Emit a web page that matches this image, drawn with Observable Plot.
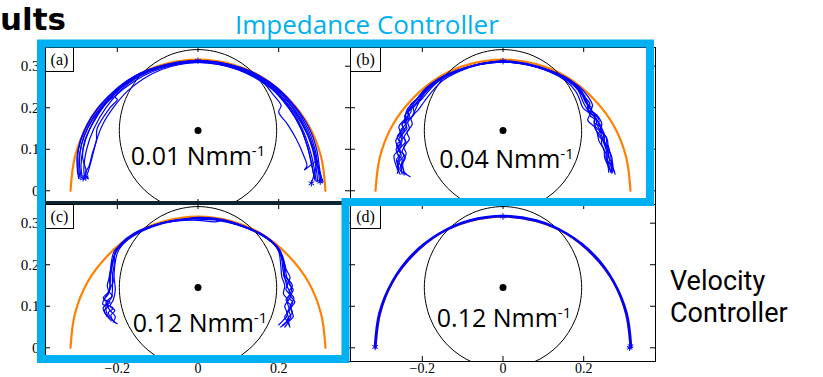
<!DOCTYPE html>
<html><head><meta charset="utf-8">
<script src="https://cdn.jsdelivr.net/npm/d3@7"></script>
<script src="https://cdn.jsdelivr.net/npm/@observablehq/plot@0.6"></script>
<style>
html,body{margin:0;padding:0;background:#fff;}
#root{position:relative;width:823px;height:377px;overflow:hidden;background:#fff;}
</style></head><body><div id="root"></div>
<script>
// ---------- data ----------
const xTicks = [-0.2, 0, 0.2];
const xTickLabels = ["\u22120.2", "0", "0.2"];
const yTicks = [0, 0.1, 0.2, 0.3];
const yTickLabels = ["0", "0.1", "0.2", "0.3"];
const panelTags = ["(a)", "(b)", "(c)", "(d)"];
const stiffness = ["0.01", "0.04", "0.12", "0.12"];
const stiffnessUnit = "Nmm";
const unitExponent = "-1";
const groupTitleTop = "Impedance Controller";
const groupTitleSide = ["Velocity", "Controller"];
const pageTitle = "ults";

// desired semicircular path (orange)
const desiredArc = [[0.316,0],[0.305,0.082],[0.274,0.158],[0.223,0.223],[0.158,0.274],[0.082,0.305],[0,0.316],
  [-0.082,0.305],[-0.158,0.274],[-0.223,0.223],[-0.274,0.158],[-0.305,0.082],[-0.316,0]];
// black circle outline
const workspaceCircle = [[0.195,0.145],[0.180,0.220],[0.138,0.283],[0.075,0.325],[0,0.340],[-0.075,0.325],
  [-0.138,0.283],[-0.180,0.220],[-0.195,0.145],[-0.180,0.070],[-0.138,0.007],[-0.075,-0.035],[0,-0.050],
  [0.075,-0.035],[0.138,0.007],[0.180,0.070]];
const circleCenter = [[0, 0.145]];

// measured trajectories (blue)
const tracesA = [
  [[-0.296,0.03],[-0.298,0.06],[-0.296,0.10],[-0.279,0.15],[-0.247,0.20],[-0.197,0.25],[-0.15,0.28],[-0.10,0.298],[-0.05,0.309],[0,0.313],[0.05,0.309],[0.10,0.297],[0.15,0.277],[0.195,0.248],[0.24,0.20],[0.272,0.15],[0.29,0.10],[0.298,0.06],[0.305,0.025]],
  [[-0.287,0.032],[-0.29,0.06],[-0.285,0.10],[-0.268,0.15],[-0.238,0.20],[-0.19,0.25],[-0.145,0.279],[-0.10,0.297],[-0.05,0.307],[0,0.311],[0.05,0.307],[0.10,0.295],[0.15,0.274],[0.19,0.248],[0.234,0.20],[0.265,0.15],[0.284,0.10],[0.292,0.06],[0.297,0.022]],
  [[-0.28,0.03],[-0.283,0.05],[-0.276,0.10],[-0.258,0.15],[-0.228,0.20],[-0.183,0.25],[-0.14,0.278],[-0.095,0.296],[-0.05,0.306],[0,0.31],[0.05,0.306],[0.10,0.293],[0.145,0.273],[0.186,0.248],[0.228,0.20],[0.258,0.15],[0.277,0.10],[0.287,0.06],[0.293,0.022]],
  [[-0.272,0.03],[-0.28,0.04],[-0.27,0.06],[-0.262,0.09],[-0.252,0.12],[-0.25,0.15],[-0.218,0.20],[-0.2,0.22],[-0.205,0.225],[-0.178,0.25],[-0.135,0.277],[-0.09,0.295],[-0.05,0.305],[0,0.309],[0.05,0.305],[0.10,0.292],[0.145,0.272],[0.183,0.247],[0.225,0.20],[0.255,0.15],[0.273,0.10],[0.282,0.06],[0.29,0.025]],
  [[-0.29,0.035],[-0.294,0.07],[-0.289,0.11],[-0.272,0.155],[-0.242,0.20],[-0.193,0.25],[-0.148,0.28],[-0.10,0.298],[-0.05,0.308],[0,0.312],[0.05,0.308],[0.10,0.296],[0.15,0.272],[0.186,0.232],[0.206,0.205],[0.2,0.19],[0.222,0.16],[0.243,0.126],[0.262,0.085],[0.27,0.06],[0.264,0.05],[0.293,0.07],[0.281,0.018]],
  [[-0.284,0.028],[-0.277,0.045],[-0.286,0.08],[-0.281,0.12],[-0.262,0.16],[-0.232,0.205],[-0.188,0.25],[-0.143,0.28],[-0.098,0.297],[-0.048,0.307],[0,0.311],[0.05,0.306],[0.10,0.294],[0.15,0.275],[0.192,0.247],[0.236,0.20],[0.268,0.15],[0.287,0.10],[0.296,0.06],[0.302,0.02]],
  [[-0.292,0.028],[-0.295,0.05],[-0.293,0.09],[-0.283,0.13],[-0.262,0.17],[-0.23,0.21],[-0.2,0.235],[-0.205,0.24],[-0.17,0.262],[-0.125,0.287],[-0.07,0.303],[0,0.312],[0.07,0.304],[0.13,0.283],[0.18,0.252],[0.222,0.21],[0.258,0.16],[0.282,0.11],[0.296,0.06],[0.31,0.022]],
  [[-0.276,0.035],[-0.268,0.06],[-0.26,0.09],[-0.252,0.12],[-0.236,0.16],[-0.21,0.2],[-0.175,0.24],[-0.135,0.27],[-0.09,0.292],[-0.045,0.304],[0,0.309],[0.05,0.304],[0.1,0.291],[0.145,0.27],[0.185,0.243],[0.22,0.205],[0.25,0.16],[0.27,0.11],[0.283,0.06],[0.288,0.03]],
  [[-0.298,0.04],[-0.3,0.08],[-0.292,0.12],[-0.275,0.16],[-0.25,0.198],[-0.205,0.242],[-0.155,0.277],[-0.105,0.297],[-0.05,0.31],[0,0.314],[0.05,0.31],[0.105,0.297],[0.155,0.276],[0.2,0.245],[0.243,0.2],[0.276,0.15],[0.294,0.1],[0.302,0.05],[0.308,0.02]]
];
const tracesB = [
  [[-0.258,0.045],[-0.262,0.07],[-0.252,0.085],[-0.26,0.10],[-0.25,0.12],[-0.255,0.135],[-0.24,0.155],[-0.245,0.17],[-0.228,0.19],[-0.23,0.205],[-0.21,0.225],[-0.19,0.248],[-0.16,0.27],[-0.12,0.288],[-0.06,0.305],[0,0.312],[0.06,0.305],[0.12,0.288],[0.16,0.268],[0.19,0.245],[0.205,0.22],[0.215,0.2],[0.225,0.185],[0.232,0.165],[0.228,0.15],[0.243,0.13],[0.245,0.11],[0.255,0.09],[0.26,0.07],[0.268,0.045]],
  [[-0.25,0.04],[-0.252,0.06],[-0.242,0.08],[-0.25,0.095],[-0.24,0.115],[-0.245,0.13],[-0.232,0.15],[-0.236,0.165],[-0.22,0.185],[-0.222,0.2],[-0.2,0.222],[-0.18,0.245],[-0.155,0.268],[-0.115,0.288],[-0.06,0.304],[0,0.311],[0.06,0.304],[0.12,0.287],[0.158,0.267],[0.185,0.245],[0.2,0.225],[0.21,0.205],[0.222,0.19],[0.238,0.17],[0.235,0.155],[0.25,0.135],[0.252,0.115],[0.26,0.095],[0.265,0.07],[0.272,0.045]],
  [[-0.262,0.05],[-0.258,0.08],[-0.265,0.10],[-0.255,0.115],[-0.262,0.13],[-0.248,0.15],[-0.25,0.16],[-0.235,0.18],[-0.238,0.195],[-0.218,0.215],[-0.2,0.235],[-0.175,0.258],[-0.145,0.275],[-0.1,0.294],[-0.05,0.307],[0,0.313],[0.06,0.306],[0.12,0.289],[0.165,0.268],[0.195,0.24],[0.208,0.215],[0.212,0.19],[0.228,0.178],[0.238,0.16],[0.248,0.14],[0.258,0.125],[0.262,0.1],[0.27,0.08],[0.272,0.06],[0.278,0.04]],
  [[-0.23,0.034],[-0.245,0.045],[-0.248,0.07],[-0.24,0.09],[-0.246,0.105],[-0.232,0.125],[-0.238,0.14],[-0.225,0.16],[-0.228,0.175],[-0.21,0.195],[-0.195,0.215],[-0.175,0.24],[-0.15,0.265],[-0.11,0.287],[-0.055,0.304],[0,0.31],[0.06,0.303],[0.115,0.287],[0.155,0.265],[0.18,0.24],[0.19,0.22],[0.198,0.2],[0.215,0.185],[0.21,0.17],[0.23,0.15],[0.238,0.12],[0.25,0.1],[0.252,0.08],[0.26,0.06],[0.262,0.045]],
  [[-0.255,0.04],[-0.265,0.06],[-0.27,0.085],[-0.258,0.1],[-0.266,0.12],[-0.255,0.14],[-0.258,0.155],[-0.242,0.175],[-0.24,0.19],[-0.225,0.205],[-0.205,0.232],[-0.185,0.25],[-0.155,0.27],[-0.11,0.29],[-0.055,0.306],[0,0.312],[0.05,0.307],[0.11,0.291],[0.16,0.27],[0.19,0.25],[0.212,0.225],[0.222,0.205],[0.218,0.195],[0.235,0.18],[0.245,0.16],[0.24,0.145],[0.255,0.13],[0.258,0.11],[0.266,0.09],[0.27,0.06],[0.275,0.048]],
  [[-0.24,0.04],[-0.255,0.05],[-0.25,0.075],[-0.262,0.09],[-0.252,0.11],[-0.258,0.125],[-0.244,0.145],[-0.25,0.16],[-0.232,0.178],[-0.235,0.192],[-0.215,0.21],[-0.195,0.238],[-0.165,0.262],[-0.13,0.282],[-0.07,0.302],[0,0.31],[0.07,0.302],[0.125,0.285],[0.162,0.265],[0.192,0.24],[0.205,0.212],[0.22,0.2],[0.215,0.182],[0.232,0.17],[0.245,0.15],[0.235,0.135],[0.25,0.12],[0.26,0.1],[0.255,0.08],[0.268,0.06],[0.27,0.042]],
  [[-0.262,0.042],[-0.258,0.055],[-0.264,0.075],[-0.254,0.09],[-0.264,0.11],[-0.25,0.125],[-0.254,0.145],[-0.238,0.165],[-0.244,0.18],[-0.226,0.198],[-0.212,0.215],[-0.19,0.242],[-0.16,0.268],[-0.12,0.287],[-0.065,0.303],[0,0.31],[0.065,0.303],[0.12,0.286],[0.16,0.266],[0.186,0.242],[0.198,0.215],[0.21,0.195],[0.228,0.183],[0.226,0.165],[0.24,0.155],[0.25,0.14],[0.248,0.12],[0.262,0.105],[0.262,0.08],[0.272,0.065],[0.266,0.045]],
  [[-0.245,0.038],[-0.248,0.055],[-0.258,0.068],[-0.246,0.085],[-0.256,0.1],[-0.242,0.118],[-0.25,0.135],[-0.238,0.15],[-0.242,0.165],[-0.225,0.18],[-0.215,0.2],[-0.205,0.22],[-0.185,0.245],[-0.15,0.27],[-0.1,0.292],[-0.05,0.306],[0,0.311],[0.05,0.306],[0.1,0.292],[0.15,0.272],[0.18,0.25],[0.2,0.228],[0.215,0.21],[0.212,0.195],[0.228,0.175],[0.226,0.16],[0.242,0.14],[0.25,0.115],[0.258,0.09],[0.258,0.07],[0.265,0.05]]
];
const tracesC = [
  [[-0.205,0.06],[-0.215,0.07],[-0.222,0.085],[-0.21,0.095],[-0.225,0.105],[-0.215,0.12],[-0.212,0.14],[-0.212,0.17],[-0.208,0.2],[-0.205,0.23],[-0.19,0.252],[-0.16,0.275],[-0.12,0.292],[-0.06,0.307],[0,0.313],[0.06,0.307],[0.12,0.29],[0.16,0.272],[0.19,0.25],[0.205,0.232],[0.212,0.2],[0.215,0.17],[0.22,0.15],[0.228,0.13],[0.218,0.115],[0.232,0.1],[0.22,0.085],[0.225,0.07],[0.21,0.055]],
  [[-0.215,0.065],[-0.225,0.08],[-0.228,0.1],[-0.218,0.11],[-0.232,0.115],[-0.222,0.13],[-0.218,0.15],[-0.216,0.18],[-0.21,0.21],[-0.202,0.237],[-0.18,0.258],[-0.15,0.278],[-0.1,0.297],[-0.05,0.308],[0,0.31],[0.05,0.307],[0.1,0.295],[0.15,0.275],[0.185,0.252],[0.2,0.235],[0.208,0.21],[0.212,0.18],[0.225,0.16],[0.232,0.14],[0.225,0.12],[0.235,0.11],[0.225,0.09],[0.23,0.075],[0.218,0.06],[0.205,0.05]],
  [[-0.21,0.062],[-0.205,0.075],[-0.218,0.09],[-0.228,0.11],[-0.212,0.125],[-0.22,0.135],[-0.21,0.16],[-0.214,0.19],[-0.208,0.22],[-0.198,0.24],[-0.175,0.262],[-0.14,0.282],[-0.09,0.3],[-0.05,0.306],[0,0.314],[0.06,0.309],[0.11,0.294],[0.16,0.272],[0.195,0.245],[0.205,0.225],[0.215,0.195],[0.212,0.175],[0.222,0.155],[0.218,0.14],[0.23,0.125],[0.222,0.11],[0.226,0.09],[0.215,0.075],[0.222,0.06],[0.215,0.05]],
  [[-0.22,0.07],[-0.232,0.09],[-0.222,0.1],[-0.236,0.105],[-0.228,0.125],[-0.218,0.14],[-0.22,0.17],[-0.214,0.2],[-0.205,0.228],[-0.188,0.25],[-0.155,0.275],[-0.11,0.295],[-0.055,0.305],[0,0.307],[0.04,0.303],[0.06,0.306],[0.11,0.293],[0.15,0.276],[0.188,0.25],[0.203,0.228],[0.215,0.2],[0.22,0.17],[0.234,0.15],[0.226,0.135],[0.238,0.12],[0.228,0.1],[0.234,0.085],[0.222,0.07],[0.226,0.055]],
  [[-0.2,0.058],[-0.21,0.065],[-0.216,0.078],[-0.206,0.09],[-0.218,0.1],[-0.21,0.115],[-0.205,0.14],[-0.208,0.17],[-0.206,0.2],[-0.2,0.228],[-0.185,0.25],[-0.155,0.272],[-0.11,0.292],[-0.055,0.306],[0,0.312],[0.055,0.307],[0.11,0.292],[0.155,0.273],[0.188,0.25],[0.2,0.232],[0.205,0.2],[0.208,0.17],[0.215,0.15],[0.212,0.13],[0.222,0.115],[0.215,0.1],[0.222,0.08],[0.21,0.065],[0.2,0.055]],
  [[-0.225,0.075],[-0.235,0.095],[-0.225,0.11],[-0.235,0.12],[-0.222,0.135],[-0.225,0.15],[-0.218,0.175],[-0.215,0.205],[-0.208,0.232],[-0.192,0.248],[-0.165,0.27],[-0.125,0.29],[-0.07,0.305],[0,0.311],[0.07,0.305],[0.125,0.288],[0.165,0.27],[0.195,0.245],[0.21,0.22],[0.218,0.19],[0.228,0.17],[0.225,0.155],[0.236,0.14],[0.23,0.125],[0.24,0.11],[0.23,0.095],[0.236,0.075],[0.225,0.062],[0.228,0.05]]
];
const tracesD = [
  [[-0.316,0],[-0.305,0.082],[-0.274,0.158],[-0.223,0.223],[-0.158,0.274],[-0.082,0.305],[0,0.316],[0.082,0.305],[0.158,0.274],[0.223,0.223],[0.274,0.158],[0.305,0.082],[0.316,0]],
  [[-0.318,0.002],[-0.307,0.083],[-0.275,0.159],[-0.225,0.225],[-0.159,0.275],[-0.083,0.307],[0,0.318],[0.083,0.307],[0.159,0.275],[0.225,0.225],[0.275,0.159],[0.307,0.083],[0.318,0.002]]
];
const markersA = [[-0.285,0.03],[-0.278,0.032],[0.303,0.022],[0.281,0.018],[0,0.313]];
const markersB = [[0,0.312]];
const markersC = [];
const markersD = [[-0.317,0.002],[0.314,0.0],[0.316,0.004],[0,0.316]];

// ---------- layout ----------
const blue = "#0000ff", orange = "#ff8000", cyan = "#00b0f0";
const panelTraces = [tracesA, tracesB, tracesC, tracesD];
const panelMarkers = [markersA, markersB, markersC, markersD];
const frames = [{L:45,T:47},{L:350,T:47},{L:45,T:204},{L:350,T:204}];
const W = 305, H = 157, M = 30;
const xDomain = [-0.378, 0.378], yDomain = [-0.033, 0.345];
const root = document.getElementById("root");
const px = d => d[0], py = d => d[1];

panelTraces.forEach((traces, i) => {
  const rows = traces.flatMap((t, run) => t.map(([x, y]) => ({run, x, y})));
  const bottom = i >= 2, left = i % 2 === 0;
  const marks = [
    Plot.line(desiredArc, {x: px, y: py, curve: "catmull-rom", stroke: orange, strokeWidth: 2.2}),
    Plot.line(workspaceCircle, {x: px, y: py, curve: "catmull-rom-closed", stroke: "black", strokeWidth: 1, clip: true}),
    Plot.dot(circleCenter, {x: px, y: py, r: 3.5, fill: "black"}),
    Plot.line(rows, {x: "x", y: "y", z: "run", curve: "catmull-rom", stroke: blue, strokeWidth: i === 3 ? 2 : 1.2, strokeLinejoin: "round"}),
    Plot.dot(panelMarkers[i], {x: px, y: py, symbol: "asterisk", r: 3, stroke: blue, strokeWidth: 1}),
    Plot.tickX(xTicks, {x: d => d, insetTop: H - 5, stroke: "black"}),
    Plot.tickX(xTicks, {x: d => d, insetBottom: H - 5, stroke: "black"}),
    Plot.tickY(yTicks, {y: d => d, insetLeft: W - 5, stroke: "black"}),
    Plot.tickY(yTicks, {y: d => d, insetRight: W - 5, stroke: "black"}),
    Plot.frame({stroke: "black", strokeWidth: 1})
  ];
  if (bottom) marks.push(Plot.axisX({ticks: xTicks, anchor: "bottom", tickSize: 0, tickPadding: 2,
    fontSize: 14, tickFormat: d => xTickLabels[xTicks.indexOf(d)], label: null}));
  if (left) marks.push(Plot.axisY({ticks: yTicks, anchor: "left", tickSize: 0, tickPadding: 6,
    tickFormat: d => yTickLabels[yTicks.indexOf(d)], label: null}));
  const svg = Plot.plot({
    width: W + 2 * M, height: H + 2 * M, margin: M,
    x: {domain: xDomain, axis: null, label: null},
    y: {domain: yDomain, axis: null, label: null},
    style: {position: "absolute", left: (frames[i].L - M) + "px", top: (frames[i].T - M) + "px",
      background: "transparent", overflow: "visible", fontFamily: "'Liberation Serif', serif", fontSize: "15px", color: "black"},
    marks
  });
  root.appendChild(svg);
});

// ---------- annotation overlay ----------
const ov = d3.create("svg").attr("width", 823).attr("height", 377)
  .style("position", "absolute").style("left", "0px").style("top", "0px").style("overflow", "visible");
ov.append("line").attr("x1", 45).attr("x2", 343).attr("y1", 203).attr("y2", 203)
  .attr("stroke", "#0d2531").attr("stroke-width", 4);
frames.forEach((f, i) => {
  const w = i % 2 === 0 ? 28 : 30;
  ov.append("rect").attr("x", f.L + 0.5).attr("y", f.T + 0.5).attr("width", w).attr("height", 24)
    .attr("fill", "white").attr("stroke", "black").attr("stroke-width", 1);
  ov.append("text").attr("x", f.L + 0.5 + w / 2).attr("y", f.T + 17.5).attr("text-anchor", "middle")
    .attr("font-family", "'Liberation Serif', serif").attr("font-size", 16).text(panelTags[i]);
});
ov.append("path").attr("d", "M41,43.5H650V202H345.5V359H41Z").attr("fill", "none")
  .attr("stroke", cyan).attr("stroke-width", 8);
const labelPos = [[198,165],[506.5,168],[200,331.7],[504,326.7]];
stiffness.forEach((s, i) => {
  const t = ov.append("text").attr("x", labelPos[i][0]).attr("y", labelPos[i][1]).attr("text-anchor", "middle")
    .attr("font-family", "'Open Sans', sans-serif").attr("font-size", 25).attr("fill", "black");
  t.append("tspan").text(s + " " + stiffnessUnit);
  t.append("tspan").attr("font-size", 15).attr("dy", -9).text(unitExponent);
});
ov.append("text").attr("x", 0).attr("y", 29.5).attr("font-family", "'DejaVu Sans', sans-serif")
  .attr("font-weight", 700).attr("font-size", 31).attr("fill", "black").text(pageTitle);
ov.append("text").attr("x", 235).attr("y", 34).attr("font-family", "'Open Sans', sans-serif")
  .attr("font-size", 26).attr("fill", cyan).text(groupTitleTop);
groupTitleSide.forEach((line, k) => {
  ov.append("text").attr("x", 670).attr("y", 290 + k * 32).attr("font-family", "Roboto, sans-serif")
    .attr("font-size", 27).attr("fill", "black").text(line);
});
root.appendChild(ov.node());
</script></body></html>
